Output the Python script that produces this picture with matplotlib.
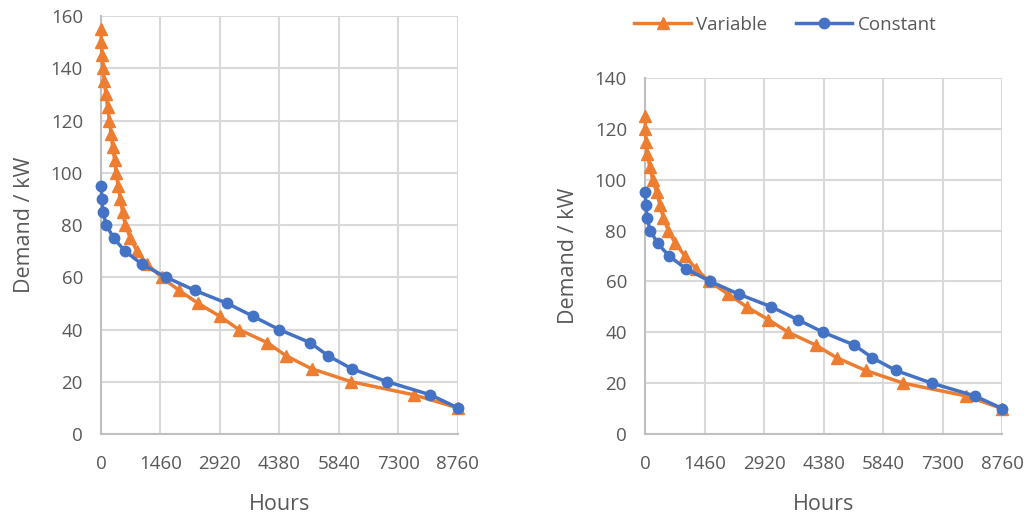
import matplotlib.pyplot as plt

# constant demand case (same in both panels)
const_hours = [0, 25, 45, 130, 310, 590, 1005, 1600, 2300, 3100, 3740, 4370,
               5130, 5570, 6150, 7030, 8085, 8760]
const_kw = [95, 90, 85, 80, 75, 70, 65, 60, 55, 50, 45, 40, 35, 30, 25, 20, 15, 10]

# variable demand, left panel
var1_hours = [0, 5, 25, 50, 80, 120, 165, 205, 245, 285, 335, 370, 420, 475, 530,
              595, 720, 885, 1130, 1490, 1912, 2386, 2921, 3384, 4078, 4536,
              5167, 6148, 7680, 8760]
var1_kw = [155, 150, 145, 140, 135, 130, 125, 120, 115, 110, 105, 100, 95, 90, 85,
           80, 75, 70, 65, 60, 55, 50, 45, 40, 35, 30, 25, 20, 15, 10]

# variable demand, right panel
var2_hours = [0, 8, 25, 55, 120, 188, 286, 368, 449, 571, 745, 981, 1250, 1577,
              2042, 2493, 3023, 3513, 4181, 4700, 5409, 6333, 7862, 8760]
var2_kw = [125, 120, 115, 110, 105, 100, 95, 90, 85, 80, 75, 70, 65, 60, 55, 50,
           45, 40, 35, 30, 25, 20, 15, 10]

x_ticks = [0, 1460, 2920, 4380, 5840, 7300, 8760]

orange = '#ED7D31'
blue = '#4472C4'
txt = '#595959'

plt.rcParams['font.family'] = ['Open Sans', 'DejaVu Sans']

fig = plt.figure(figsize=(10.36, 5.17), dpi=100)
ax1 = fig.add_axes([0.0975, 0.1605, 0.3445, 0.8085])
ax2 = fig.add_axes([0.6226, 0.1605, 0.3449, 0.6885])


def style(ax, ymax):
    ax.set_xlim(0, 8760)
    ax.set_ylim(0, ymax)
    ax.set_xticks(x_ticks)
    ax.set_yticks(range(0, ymax + 1, 20))
    ax.grid(True, color='#d9d9d9', lw=1.5)
    ax.set_axisbelow(True)
    for s in ['top', 'right']:
        ax.spines[s].set_visible(False)
    for s in ['left', 'bottom']:
        ax.spines[s].set_color('#bfbfbf')
        ax.spines[s].set_linewidth(1.5)
    ax.tick_params(length=0, labelsize=13.5, labelcolor=txt)
    ax.tick_params(axis='y', pad=13)
    ax.tick_params(axis='x', pad=15)
    ax.set_xlabel('Hours', fontsize=15.5, color=txt, labelpad=15)
    ax.set_ylabel('Demand / kW', fontsize=15.5, color=txt, labelpad=11)


for ax, vh, vk, ymax in [(ax1, var1_hours, var1_kw, 160),
                         (ax2, var2_hours, var2_kw, 140)]:
    ax.plot(vh, vk, color=orange, lw=2.5, marker='^', ms=8.5, clip_on=False,
            label='Variable', zorder=3)
    ax.plot(const_hours, const_kw, color=blue, lw=2.5, marker='o', ms=7.5,
            clip_on=False, label='Constant', zorder=4)
    style(ax, ymax)

handles, labels = ax2.get_legend_handles_labels()
fig.legend(handles, labels, loc='center', bbox_to_anchor=(0.758, 0.952), ncol=2,
           frameon=False, fontsize=13.5, labelcolor=txt, handlelength=3,
           columnspacing=1.5, handletextpad=0.3)

fig.savefig('out.png', dpi=100)
